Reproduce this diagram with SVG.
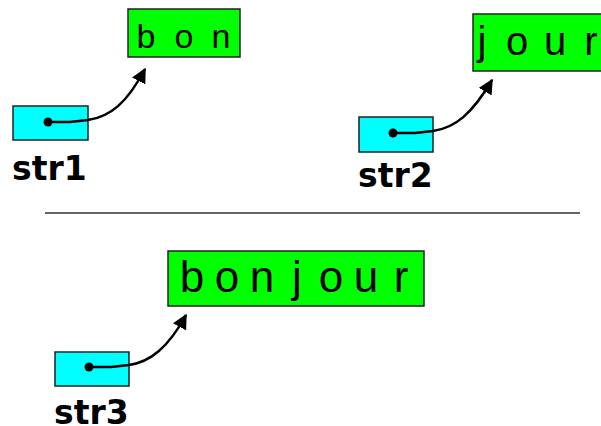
<svg xmlns="http://www.w3.org/2000/svg" width="601" height="426" viewBox="0 0 601 426">
<defs>
<style>
.cell{fill:#00ff00;stroke:#222;stroke-width:1.5}
.ptr{fill:#00ffff;stroke:#222;stroke-width:1.5}
.lbl{font-family:"DejaVu Sans",sans-serif;font-weight:bold;font-size:33px;fill:#000}
.chr{font-family:"Liberation Sans",Arial,sans-serif;fill:#000;text-anchor:middle}
.con{fill:none;stroke:#000;stroke-width:2.5}
.dot{fill:#000}
</style>
<marker id="ah" viewBox="0 0 10 10" refX="9" refY="5" markerWidth="6" markerHeight="6" orient="auto" markerUnits="strokeWidth">
<path d="M0,0 L10,5 L0,10 z" fill="#000"/>
</marker>
</defs>
<rect width="601" height="426" fill="#fff"/>
<g id="str1">
<rect class="ptr" x="13" y="106" width="75" height="34"/>
<text class="lbl" x="12" y="180">str1</text>
</g>
<g id="bon">
<rect class="cell" x="128" y="9" width="112" height="48"/>
<text class="chr" font-size="34" y="48"><tspan x="146">b</tspan><tspan x="184">o</tspan><tspan x="221">n</tspan></text>
</g>
<g id="str2">
<rect class="ptr" x="359" y="117" width="74" height="35"/>
<text class="lbl" x="358" y="187">str2</text>
</g>
<g id="jour">
<rect class="cell" x="473" y="14" width="140" height="57"/>
<text class="chr" font-size="40" y="55"><tspan x="482">j</tspan><tspan x="517">o</tspan><tspan x="555">u</tspan><tspan x="591">r</tspan></text>
</g>
<line x1="45" y1="213" x2="580" y2="213" stroke="#333" stroke-width="1.5"/>
<g id="str3">
<rect class="ptr" x="55" y="352" width="74" height="34"/>
<text class="lbl" x="54" y="424">str3</text>
</g>
<g id="bonjour">
<rect class="cell" x="168" y="251" width="256" height="55"/>
<text class="chr" font-size="44" y="292"><tspan x="192">b</tspan><tspan x="227">o</tspan><tspan x="262">n</tspan><tspan x="297">j</tspan><tspan x="331">o</tspan><tspan x="366">u</tspan><tspan x="401">r</tspan></text>
</g>
<g id="connectors">
<circle class="dot" cx="48" cy="122" r="4.5"/>
<path class="con" marker-end="url(#ah)" d="M48,122 L70,122 L88,120 C110,117 127,103 145,69"/>
<circle class="dot" cx="393" cy="133" r="4.5"/>
<path class="con" marker-end="url(#ah)" d="M393,133 L415,133 L433,131 C455,128 472,114 492,80"/>
<circle class="dot" cx="89" cy="367" r="4.5"/>
<path class="con" marker-end="url(#ah)" d="M89,367 L111,367 L129,365 C150,362 168,348 186,315"/>
</g>
</svg>
